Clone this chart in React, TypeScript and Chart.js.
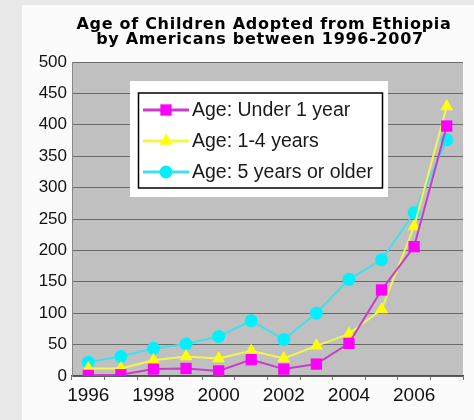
import React, { useEffect, useRef } from "react";
import { Chart, registerables } from "chart.js";

Chart.register(...registerables);

const years = ["1996", "1997", "1998", "1999", "2000", "2001", "2002", "2003", "2004", "2005", "2006", "2007"];
const under1 = [1, 2, 11, 12, 8, 26, 11, 19, 52, 137, 206, 398];
const age1to4 = [12, 12, 25, 31, 28, 40, 28, 48, 67, 106, 238, 429];
const age5plus = [22, 31, 44, 51, 63, 88, 58, 100, 154, 185, 260, 376];
const seriesNames = ["Age: Under 1 year", "Age: 1-4 years", "Age: 5 years or older"];
const titleLines = ["Age of Children Adopted from Ethiopia", "by Americans between 1996-2007"];
const yTicks = [0, 50, 100, 150, 200, 250, 300, 350, 400, 450, 500];

const lineColors = ["#c83cc8", "#f4f450", "#40e0ea"];
const markColors = ["#ff00ff", "#ffff00", "#00f0ff"];
const markStyles = ["rect", "triangle", "circle"];
const markRadius = [8, 7.5, 6.5];

function drawMarker(ctx: CanvasRenderingContext2D, style: string, x: number, y: number, r: number, color: string) {
  ctx.save();
  ctx.fillStyle = color;
  ctx.beginPath();
  if (style === "rect") {
    const s = Math.SQRT1_2 * r;
    ctx.rect(x - s, y - s, 2 * s, 2 * s);
  } else if (style === "triangle") {
    const a = -Math.PI / 2;
    for (let k = 0; k < 3; k++) {
      const ang = a + (k * 2 * Math.PI) / 3;
      const px = x + Math.cos(ang) * r;
      const py = y + Math.sin(ang) * r;
      if (k === 0) ctx.moveTo(px, py);
      else ctx.lineTo(px, py);
    }
    ctx.closePath();
  } else {
    ctx.arc(x, y, r, 0, Math.PI * 2);
  }
  ctx.fill();
  ctx.restore();
}

const bgPlugin = {
  id: "plotBg",
  beforeDraw(chart: any) {
    const { ctx, chartArea } = chart;
    ctx.save();
    ctx.fillStyle = "#c0c0c0";
    ctx.fillRect(chartArea.left, chartArea.top, chartArea.right - chartArea.left, chartArea.bottom - chartArea.top);
    ctx.restore();
  },
};

const titlePlugin = {
  id: "customTitle",
  afterDraw(chart: any) {
    const ctx = chart.ctx as any;
    ctx.save();
    ctx.fillStyle = "#000";
    ctx.font = 'bold 16px "DejaVu Sans", Verdana, sans-serif';
    ctx.letterSpacing = "0.7px";
    ctx.textAlign = "center";
    ctx.textBaseline = "middle";
    ctx.fillText(titleLines[0], 242, 20);
    ctx.fillText(titleLines[1], 238, 35);
    ctx.restore();
  },
};

const legendPlugin = {
  id: "customLegend",
  afterDraw(chart: any) {
    const ctx = chart.ctx as CanvasRenderingContext2D;
    ctx.save();
    ctx.fillStyle = "#ffffff";
    ctx.fillRect(108, 76, 258, 116);
    ctx.strokeStyle = "#000";
    ctx.lineWidth = 1.5;
    ctx.strokeRect(116.5, 88, 244, 95);
    const rows = [105, 136, 167];
    chart.data.datasets.forEach((ds: any, i: number) => {
      const y = rows[i];
      ctx.strokeStyle = ds.borderColor;
      ctx.lineWidth = 3;
      ctx.beginPath();
      ctx.moveTo(121, y);
      ctx.lineTo(167, y);
      ctx.stroke();
      drawMarker(ctx, ds.pointStyle, 144, y, ds.pointRadius, ds.pointBackgroundColor);
      ctx.fillStyle = "#1a1a1a";
      ctx.font = '19.5px "Liberation Sans", Arial, sans-serif';
      ctx.textAlign = "left";
      ctx.textBaseline = "middle";
      ctx.fillText(ds.label, 170, y + 1);
    });
    ctx.restore();
  },
};

export default function App() {
  const ref = useRef<HTMLCanvasElement | null>(null);

  useEffect(() => {
    if (!ref.current) return;
    const values = [under1, age1to4, age5plus];
    const chart = new Chart(ref.current, {
      type: "line",
      data: {
        labels: years,
        datasets: values.map((v, i) => ({
          label: seriesNames[i],
          data: v,
          borderColor: lineColors[i],
          backgroundColor: markColors[i],
          borderWidth: 2,
          pointStyle: markStyles[i] as any,
          pointRadius: markRadius[i],
          pointBackgroundColor: markColors[i],
          pointBorderWidth: 0,
          pointBorderColor: markColors[i],
          tension: 0,
          fill: false,
        })),
      },
      options: {
        animation: false,
        responsive: false,
        devicePixelRatio: 1,
        layout: { padding: { top: 57, right: 11, left: 0, bottom: 0 } },
        plugins: {
          legend: { display: false },
          title: { display: false },
          tooltip: { enabled: false },
        },
        scales: {
          x: {
            offset: true,
            grid: { offset: true, drawOnChartArea: false, drawTicks: true, tickLength: 4, color: "#707070" },
            border: { color: "#505050", width: 1.5 },
            ticks: {
              autoSkip: false,
              maxRotation: 0,
              minRotation: 0,
              padding: 4,
              color: "#111",
              font: { family: '"Liberation Sans", Arial, sans-serif', size: 19 },
              callback: (_v: any, i: number) => (i % 2 === 0 ? years[i] : ""),
            },
            afterFit: (s: any) => {
              s.height = 44;
            },
          },
          y: {
            min: 0,
            max: 500,
            afterBuildTicks: (s: any) => {
              s.ticks = yTicks.map((v) => ({ value: v }));
            },
            grid: { color: "#6a6a6a", drawTicks: false, lineWidth: 1 },
            border: { color: "#888", width: 1 },
            ticks: {
              padding: 5,
              color: "#111",
              font: { family: '"Liberation Sans", Arial, sans-serif', size: 17 },
            },
            afterFit: (s: any) => {
              s.width = 50;
            },
          },
        },
      },
      plugins: [bgPlugin, titlePlugin, legendPlugin],
    });
    return () => chart.destroy();
  }, []);

  return (
    <div style={{ position: "fixed", left: 0, top: 0, width: 474, height: 420, background: "#e8e8e8", overflow: "hidden" }}>
      <div style={{ position: "absolute", left: 22, top: 5, width: 452, height: 415, background: "#fbfbfb" }}>
        <canvas ref={ref} width={452} height={415} style={{ display: "block", width: 452, height: 415 }} />
      </div>
    </div>
  );
}
